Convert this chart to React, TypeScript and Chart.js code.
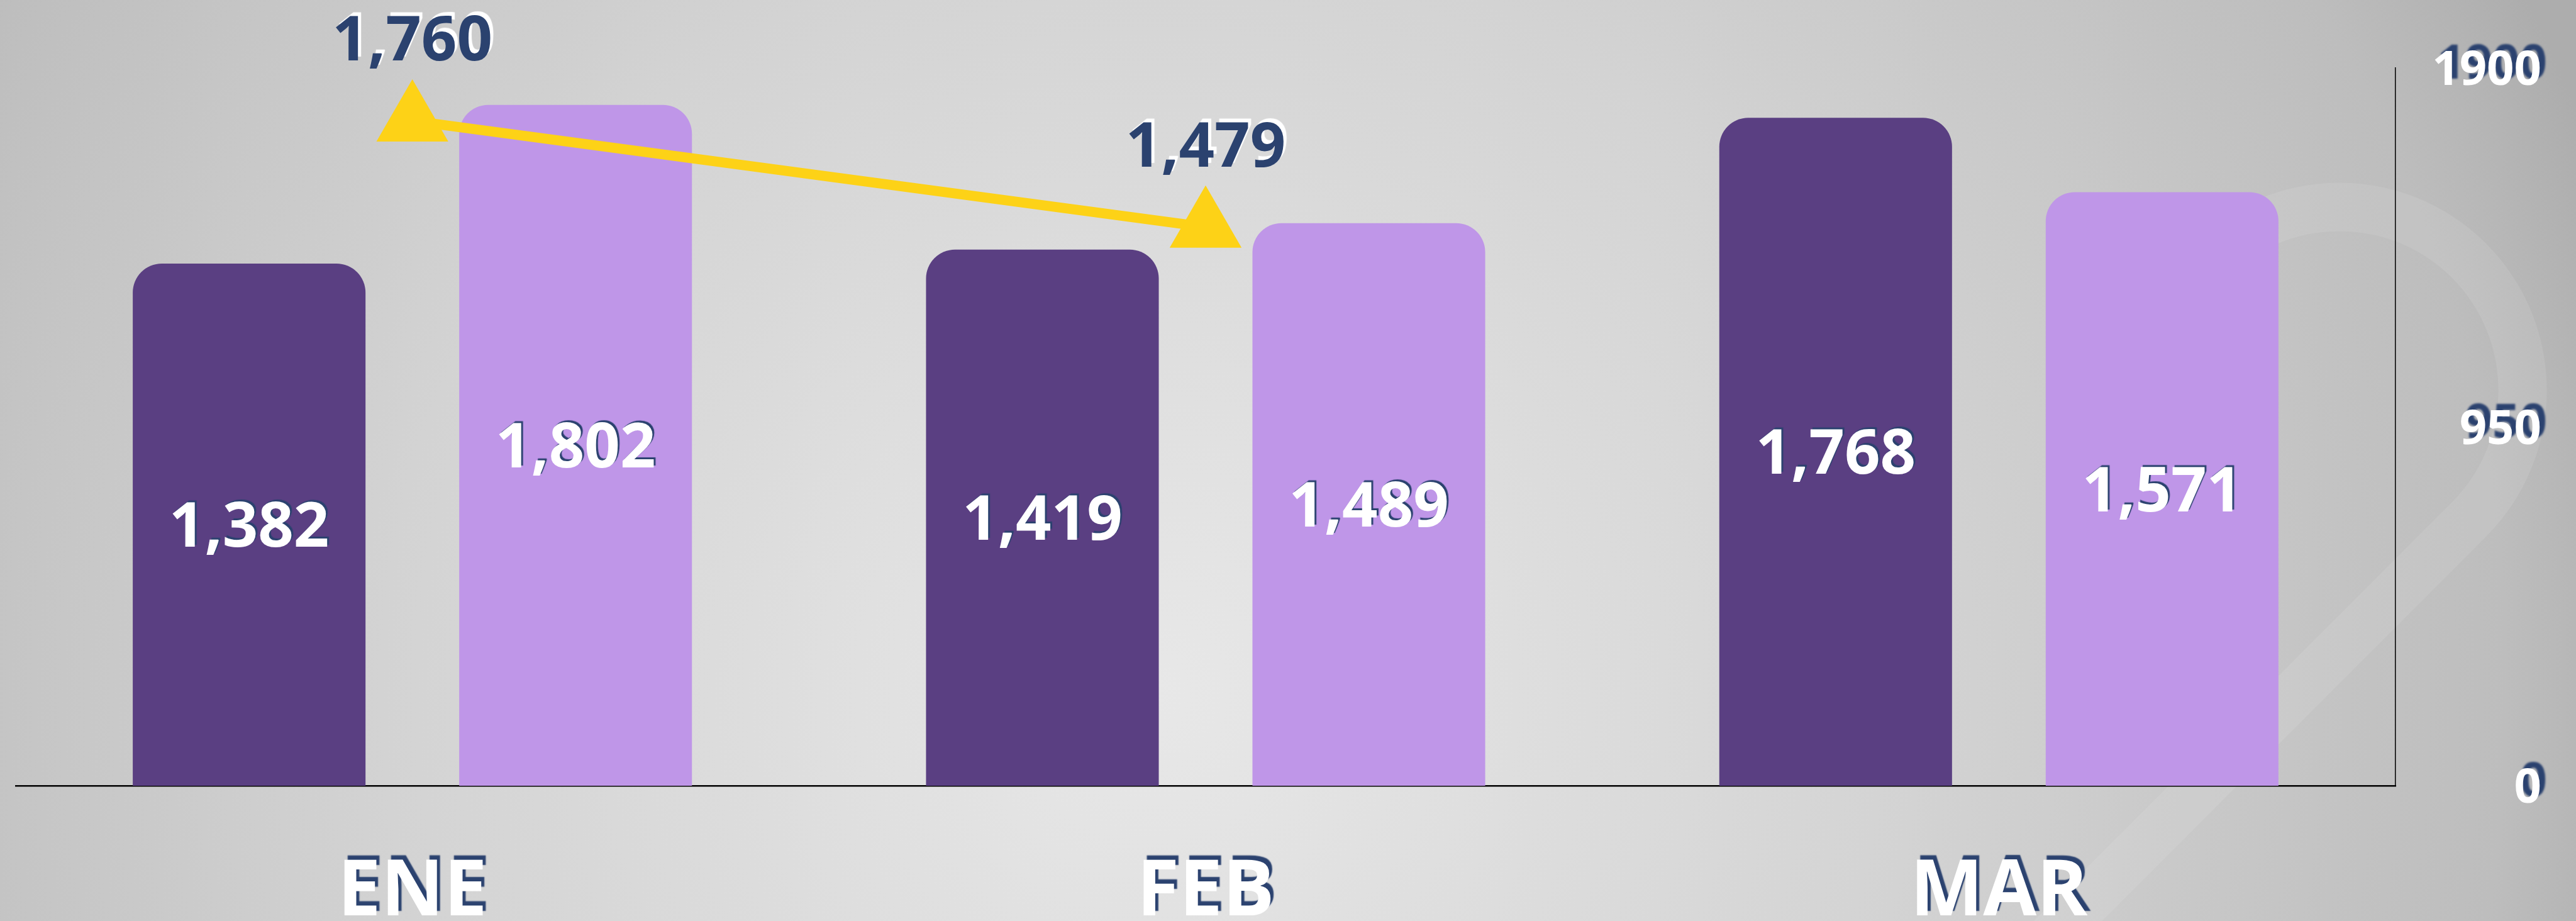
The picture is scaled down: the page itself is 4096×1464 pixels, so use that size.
import React, { useEffect, useRef } from "react";
import { Chart, registerables } from "chart.js";

Chart.register(...registerables);

const W = 4096;
const H = 1464;

const categories = ["ENE", "FEB", "MAR"];
const seriesDark = [1382, 1419, 1768];
const seriesLight = [1802, 1489, 1571];
const lineValues: (number | null)[] = [1760, 1479, null];
const yMin = 0;
const yMax = 1900;
const yStep = 950;

const NAVY = "#2B426F";
const DARK = "#5A3F82";
const LIGHT = "#BF96E8";
const YELLOW = "#FDD217";
const FONT = '"Open Sans", "DejaVu Sans", sans-serif';

const fmt = (v: number) => v.toLocaleString("en-US");

function drawText(
  ctx: CanvasRenderingContext2D,
  text: string,
  x: number,
  y: number,
  size: number,
  fill: string,
  shadow: string,
  ox: number,
  oy: number,
  blur: number,
  align: CanvasTextAlign = "center"
) {
  ctx.save();
  ctx.font = `700 ${size}px ${FONT}`;
  ctx.textAlign = align;
  ctx.textBaseline = "alphabetic";
  ctx.shadowColor = shadow;
  ctx.shadowOffsetX = ox;
  ctx.shadowOffsetY = oy;
  ctx.shadowBlur = blur;
  ctx.fillStyle = fill;
  ctx.fillText(text, x, y);
  ctx.restore();
}

const backgroundPlugin = {
  id: "bgPlugin",
  beforeDraw(chart: any) {
    const ctx: CanvasRenderingContext2D = chart.ctx;
    ctx.save();
    const g = ctx.createRadialGradient(1830, 1100, 0, 1830, 1100, 2450);
    g.addColorStop(0, "#E8E8E8");
    g.addColorStop(0.5, "#D3D3D3");
    g.addColorStop(0.88, "#BDBDBD");
    g.addColorStop(1, "#ADADAD");
    ctx.fillStyle = g;
    ctx.fillRect(0, 0, chart.width, chart.height);
    // faint watermark
    ctx.strokeStyle = "rgba(255,255,255,0.09)";
    ctx.lineWidth = 77;
    ctx.lineJoin = "round";
    ctx.beginPath();
    ctx.arc(3720, 620, 291, Math.PI * 0.95, Math.PI * 2.25, false);
    ctx.lineTo(3226, 1526);
    ctx.lineTo(4200, 1526);
    ctx.stroke();
    ctx.restore();
  },
};

const labelsPlugin = {
  id: "labelsPlugin",
  afterDraw(chart: any) {
    const ctx: CanvasRenderingContext2D = chart.ctx;
    const xScale = chart.scales.x;
    const yScale = chart.scales.y;
    const area = chart.chartArea;

    // y tick labels (right side)
    const tickSize = 76;
    yScale.ticks.forEach((t: any) => {
      const y = yScale.getPixelForValue(t.value);
      drawText(ctx, String(t.value), area.right + 232, y + tickSize * 0.357, tickSize, "#FFFFFF", NAVY, 9, -10, 3, "right");
    });

    // x category labels
    const xSize = 123;
    (chart.data.labels as string[]).forEach((lab, i) => {
      const x = xScale.getPixelForTick(i);
      drawText(ctx, lab, x, area.bottom + 206, xSize, "#FFFFFF", NAVY, 5, -7, 1.5);
    });

    // bar value labels
    const barSize = 99;
    [1, 2].forEach((di) => {
      const meta = chart.getDatasetMeta(di);
      const ds = chart.data.datasets[di];
      meta.data.forEach((el: any, j: number) => {
        const v = ds.data[j] as number;
        const cy = (el.y + el.base) / 2;
        drawText(ctx, fmt(v), el.x, cy + barSize * 0.357, barSize, "#FFFFFF", NAVY, 3, -3, 1);
      });
    });

    // line value labels
    const lineMeta = chart.getDatasetMeta(0);
    const lds = chart.data.datasets[0];
    lineMeta.data.forEach((el: any, j: number) => {
      const v = lds.data[j];
      if (v === null || v === undefined) return;
      drawText(ctx, fmt(v as number), el.x, el.y - 96, 99, NAVY, "#FFFFFF", 5, -6, 1);
    });
  },
};

export default function App() {
  const ref = useRef<HTMLCanvasElement | null>(null);

  useEffect(() => {
    if (!ref.current) return;
    const chart = new Chart(ref.current, {
      type: "bar",
      data: {
        labels: categories,
        datasets: [
          {
            type: "line",
            data: lineValues,
            borderColor: YELLOW,
            backgroundColor: YELLOW,
            borderWidth: 16,
            pointStyle: "triangle",
            pointRadius: 66,
            pointHoverRadius: 66,
            pointBorderWidth: 0,
            pointBackgroundColor: YELLOW,
            fill: false,
            tension: 0,
            order: 0,
            clip: false,
          } as any,
          {
            type: "bar",
            data: seriesDark,
            backgroundColor: DARK,
            borderRadius: 46,
            borderSkipped: "start",
            categoryPercentage: 0.823,
            barPercentage: 0.713,
            order: 2,
          } as any,
          {
            type: "bar",
            data: seriesLight,
            backgroundColor: LIGHT,
            borderRadius: 46,
            borderSkipped: "start",
            categoryPercentage: 0.823,
            barPercentage: 0.713,
            order: 2,
          } as any,
        ],
      },
      options: {
        responsive: false,
        animation: false,
        devicePixelRatio: 1,
        layout: { autoPadding: false, padding: { left: 25, right: 279, top: 108, bottom: 207 } },
        plugins: { legend: { display: false }, tooltip: { enabled: false } },
        scales: {
          x: {
            offset: true,
            grid: { display: false },
            ticks: { display: false },
            border: { display: true, color: "#000000", width: 2.5 },
          },
          y: {
            position: "right",
            min: yMin,
            max: yMax,
            ticks: { display: false, stepSize: yStep },
            grid: { display: false },
            border: { display: true, color: "#000000", width: 1.5 },
          },
        },
      } as any,
      plugins: [backgroundPlugin, labelsPlugin],
    });
    return () => chart.destroy();
  }, []);

  return (
    <div style={{ position: "absolute", left: 0, top: 0, width: W, height: H }}>
      <canvas ref={ref} width={W} height={H} style={{ display: "block", width: W, height: H }} />
    </div>
  );
}
